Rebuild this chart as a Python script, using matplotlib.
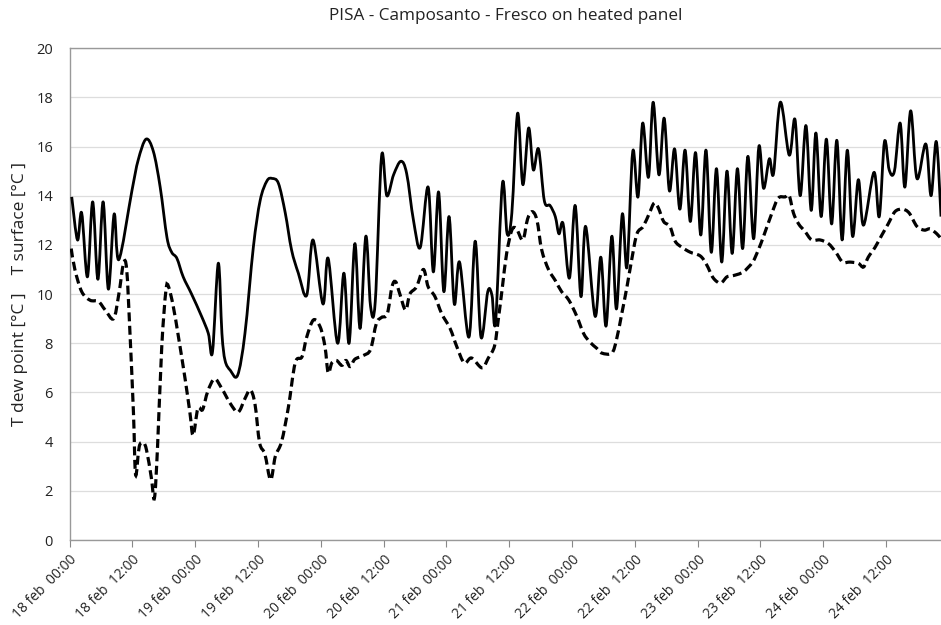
import matplotlib
matplotlib.use("Agg")
import matplotlib.pyplot as plt
import matplotlib.dates as mdates
from matplotlib.path import Path
from matplotlib.patches import PathPatch
import numpy as np
import pandas as pd

# ore dall'inizio (18 feb 00:00) e temperature
surf_h = [0.4, 1.5, 2.3, 3.4, 4.4, 5.4, 6.4, 7.4, 8.5, 9.4, 11.9, 13.1, 14.6, 16.0,
          17.3, 18.6, 19.5, 20.5, 21.7, 23.3, 25.2, 26.5, 27.3, 28.4, 29.1, 29.7,
          30.7, 32.1, 33.5, 35.1, 36.4, 37.7, 38.7, 39.9, 41.2, 42.4, 43.7, 45.3,
          46.5, 48.4, 49.4, 51.2, 52.4, 53.4, 54.5, 55.5, 56.6, 57.5, 58.4, 59.6,
          60.6, 61.9, 63.3, 64.4, 65.7, 67.0, 68.5, 69.5, 70.5, 71.5, 72.5, 73.5,
          74.5, 76.3, 77.5, 78.6, 79.9, 80.7, 81.4, 82.7, 83.6, 84.5, 85.6, 86.6,
          87.7, 88.6, 89.6, 90.7, 91.8, 92.8, 93.5, 94.3, 95.5, 96.6, 97.7, 98.6,
          100.4, 101.5, 102.5, 103.6, 104.5, 105.6, 106.5, 107.6, 108.6, 109.5,
          110.6, 111.5, 112.6, 113.6, 114.6, 115.6, 116.6, 117.6, 118.6, 119.6,
          120.6, 121.6, 122.6, 123.6, 124.6, 125.6, 126.6, 127.6, 128.6, 129.6,
          130.7, 131.7, 132.6, 133.7, 134.5, 135.8, 137.5, 138.6, 139.6, 140.7,
          141.7, 142.6, 143.6, 144.6, 145.6, 146.6, 147.6, 148.6, 149.6, 150.7,
          151.7, 153.7, 154.7, 155.7, 156.6, 157.6, 158.7, 159.6, 160.7, 161.9,
          163.6, 164.6, 165.6, 166.5]
surf_t = [13.95, 12.2, 13.3, 10.7, 13.75, 10.6, 13.75, 10.2, 13.25, 11.4, 14.2, 15.45,
          16.3, 15.8, 14.35, 12.3, 11.7, 11.45, 10.7, 10.0, 9.1, 8.4, 7.65, 11.25,
          8.4, 7.3, 6.9, 6.7, 8.4, 11.9, 13.8, 14.6, 14.7, 14.5, 13.3, 11.8, 10.85,
          9.95, 12.2, 9.6, 11.45, 8.0, 10.85, 8.0, 12.05, 8.6, 12.35, 9.5, 9.7, 15.6,
          14.0, 14.85, 15.4, 14.9, 13.0, 11.9, 14.35, 10.9, 14.15, 10.1, 13.15, 9.6,
          11.3, 8.25, 12.15, 8.25, 10.1, 9.95, 8.9, 14.5, 12.45, 13.3, 17.35, 14.45,
          16.75, 15.05, 15.9, 13.8, 13.6, 13.15, 12.45, 12.85, 10.65, 13.6, 9.9,
          12.75, 9.1, 11.5, 8.7, 12.35, 9.4, 13.25, 11.1, 15.8, 13.95, 16.95, 14.75,
          17.8, 14.85, 17.15, 14.2, 15.9, 13.45, 15.85, 12.95, 15.75, 12.4, 15.85,
          11.7, 15.1, 11.3, 15.0, 11.65, 15.1, 11.85, 15.6, 12.25, 16.0, 14.3, 15.5,
          14.9, 17.8, 15.65, 17.1, 14.0, 16.85, 13.4, 16.55, 13.15, 16.3, 12.85,
          16.25, 12.2, 15.85, 12.35, 14.65, 12.8, 14.95, 13.15, 16.2, 15.05, 15.0,
          16.95, 14.35, 17.45, 14.7, 16.1, 14.0, 16.2, 13.15]

dew_h = [0.3, 1.0, 2.3, 3.9, 5.5, 6.8, 8.4, 9.4, 10.3, 10.9, 11.5, 12.2, 12.6, 13.3,
         14.1, 14.7, 15.6, 16.2, 16.8, 17.6, 18.4, 18.9, 19.8, 20.8, 22.1, 23.0,
         23.6, 24.5, 25.4, 26.4, 27.7, 29.1, 30.7, 32.2, 33.5, 34.5, 35.4, 36.3,
         37.3, 38.4, 39.3, 40.5, 41.8, 43.1, 44.4, 45.3, 46.6, 47.9, 48.8, 49.4,
         50.1, 51.0, 52.0, 52.8, 53.6, 54.5, 56.1, 57.5, 58.6, 59.6, 60.7, 61.6,
         62.3, 63.1, 64.2, 65.0, 66.3, 67.6, 68.5, 69.8, 71.1, 72.7, 74.0, 75.4,
         76.8, 78.8, 80.0, 81.2, 81.9, 82.7, 83.5, 84.5, 85.4, 86.6, 87.5, 88.4,
         89.3, 90.2, 91.5, 92.8, 94.0, 95.4, 96.9, 98.2, 99.4, 100.7, 101.7, 103.6,
         104.5, 105.5, 106.5, 107.4, 108.4, 109.6, 110.8, 111.7, 112.5, 113.5,
         114.7, 115.7, 117.0, 118.6, 120.5, 121.7, 123.0, 124.4, 125.6, 126.8,
         128.7, 130.5, 131.6, 132.6, 134.2, 135.4, 136.7, 137.5, 138.3, 139.3,
         140.5, 141.8, 143.4, 145.0, 146.4, 147.7, 149.1, 150.7, 151.7, 152.6,
         153.9, 155.2, 156.4, 157.7, 159.1, 160.4, 161.9, 163.3, 164.4, 165.7, 166.5]
dew_t = [11.85, 11.0, 10.1, 9.75, 9.7, 9.35, 9.0, 10.0, 11.25, 11.0, 8.55, 5.15, 2.65,
         3.8, 3.95, 3.65, 2.55, 1.7, 3.8, 7.85, 10.15, 10.3, 9.5, 8.25, 6.5, 5.15,
         4.25, 5.35, 5.3, 6.05, 6.55, 6.15, 5.55, 5.2, 5.75, 6.1, 5.55, 3.95, 3.5,
         2.45, 3.4, 4.0, 5.4, 7.2, 7.45, 8.25, 8.95, 8.65, 7.85, 6.8, 7.2, 7.3, 7.1,
         7.3, 7.05, 7.35, 7.5, 7.75, 8.8, 9.05, 9.2, 10.3, 10.5, 10.0, 9.35, 10.0,
         10.3, 11.0, 10.3, 9.9, 9.2, 8.6, 7.85, 7.2, 7.4, 7.0, 7.4, 7.9, 8.95, 10.3,
         11.65, 12.6, 12.65, 12.2, 13.05, 13.35, 13.0, 11.8, 11.0, 10.55, 10.1,
         9.75, 9.1, 8.4, 8.05, 7.8, 7.6, 7.6, 8.15, 9.2, 10.3, 11.4, 12.45, 12.75,
         13.3, 13.7, 13.5, 12.95, 12.75, 12.15, 11.9, 11.7, 11.55, 11.2, 10.65,
         10.45, 10.7, 10.75, 10.9, 11.3, 11.8, 12.35, 13.3, 13.9, 13.95, 14.0, 13.3,
         12.85, 12.55, 12.2, 12.2, 12.05, 11.7, 11.3, 11.3, 11.25, 11.1, 11.5, 11.9,
         12.4, 12.85, 13.35, 13.45, 13.3, 12.75, 12.6, 12.65, 12.45, 12.25]

start = pd.Timestamp("2015-02-18 00:00")
tick_times = pd.date_range(start, periods=14, freq="12h")
tick_labels = [f"{t.day} feb  {t:%H:%M}" for t in tick_times]
y_ticks = list(range(0, 21, 2))

plt.rcParams["font.family"] = ["Open Sans", "DejaVu Sans"]


def smooth_path(xs, ys):
    # linea "smussata" come in Excel: curve di Bezier attraverso i punti
    p = np.column_stack([xs, ys])
    ext = np.vstack([p[0], p, p[-1]])
    verts = [p[0]]
    codes = [Path.MOVETO]
    for i in range(len(p) - 1):
        p0, p1, p2, p3 = ext[i], ext[i + 1], ext[i + 2], ext[i + 3]
        verts += [p1 + (p2 - p0) / 6, p2 - (p3 - p1) / 6, p2]
        codes += [Path.CURVE4] * 3
    return Path(verts, codes)


surf_x = mdates.date2num(start + pd.to_timedelta(surf_h, unit="h"))
dew_x = mdates.date2num(start + pd.to_timedelta(dew_h, unit="h"))

fig = plt.figure(figsize=(9.41, 6.25), dpi=100)
ax = fig.add_axes([0.074, 0.136, 0.926, 0.787])
ax.xaxis_date()

ax.add_patch(PathPatch(smooth_path(surf_x, surf_t), fill=False, edgecolor="black",
                       linewidth=2.0, joinstyle="round", zorder=3))
ax.add_patch(PathPatch(smooth_path(dew_x, dew_t), fill=False, edgecolor="black",
                       linewidth=2.3, linestyle=(0, (2.8, 1.4)), zorder=3))

ax.set_ylim(0, 20)
ax.set_xlim(start, start + pd.Timedelta(hours=166.5))
ax.set_yticks(y_ticks)
ax.set_xticks(tick_times)
ax.set_xticklabels(tick_labels, rotation=45, ha="right", rotation_mode="anchor",
                   fontsize=10, color="#222222")
ax.tick_params(axis="y", length=0, labelsize=10.5, labelcolor="#222222", pad=12)
ax.tick_params(axis="x", length=5, color="#888888", pad=4)

ax.grid(axis="y", color="#dddddd", linewidth=0.9)
ax.set_axisbelow(True)
for side in ["left", "bottom", "top"]:
    ax.spines[side].set_color("#999999")
    ax.spines[side].set_linewidth(1.0)
ax.spines["right"].set_visible(False)

ax.set_ylabel("T dew point [°C ]    T surface [°C ]", fontsize=12.5, color="#222222",
              labelpad=6)
fig.suptitle("PISA - Camposanto - Fresco on heated panel", x=0.537, y=0.988,
             fontsize=12.3, color="#222222")

fig.savefig("out.png", dpi=100)
